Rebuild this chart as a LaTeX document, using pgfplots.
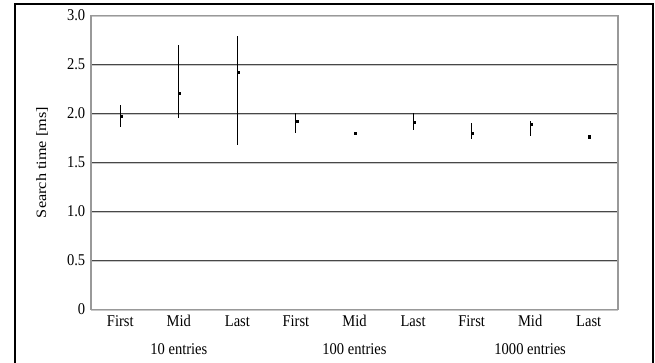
\documentclass[border=0pt]{standalone}
\usepackage{pgfplots}
\pgfplotsset{compat=1.18}
\usepackage{graphicx}
\usepackage{fontspec}
\setmainfont{Liberation Serif}
\newcommand\sy[1]{\scalebox{1}[1.13]{#1}}
\begin{document}
\fontsize{10.9}{13}\selectfont
\begin{tikzpicture}
\begin{axis}[
  at={(68.25pt,39.4pt)}, anchor=south west,
  scale only axis, width=395.25pt, height=220.5pt,
  xmin=-0.5, xmax=8.5, ymin=0, ymax=3,
  xtick={0,...,8},
  xticklabels={\sy{First},\sy{Mid},\sy{Last},\sy{First},\sy{Mid},\sy{Last},\sy{First},\sy{Mid},\sy{Last}},
  ytick={0,0.5,1,1.5,2,2.5,3},
  yticklabels={\sy{0},\sy{0.5},\sy{1.0},\sy{1.5},\sy{2.0},\sy{2.5},\sy{3.0}},
  major tick length=0pt,
  ymajorgrids,
  major grid style={draw=black!72, line width=0.75pt,
     postaction={draw=black!22, line width=0.6pt, transform canvas={yshift=-0.75pt}}},
  axis line style={draw=black!40, line width=0.9pt},
  tick label style={font=\fontsize{10.9}{13}\selectfont},
  yticklabel style={xshift=-0.5pt},
  xticklabel style={yshift=-0.5pt},
  ylabel={\scalebox{1}[0.88]{Search time [ms]}},
  every axis y label/.style={at={(rel axis cs:0,0.5)}, xshift=-36.75pt, rotate=90, anchor=center, font=\fontsize{12.2}{13}\selectfont},
  clip=false,
]
\addplot[black, line width=0.75pt, only marks, mark=square*, mark size=0.8pt,
  mark options={xshift=0.8pt},
  error bars/.cd, y dir=both, y explicit,
  error mark=none,
  error bar style={line width=0.75pt, black}]
  table[x=x, y=y, y error plus=ep, y error minus=em] {
x y ep em
0 1.965 0.12 0.102
1 2.20 0.495 0.25
2 2.415 0.375 0.735
3 1.915 0.085 0.115
4 1.797 0.012 0.012
5 1.905 0.095 0.075
6 1.80 0.105 0.06
7 1.89 0.035 0.12
8 1.76 0.01 0.01
};
\node[anchor=base] at (axis cs:1,0) [yshift=-33.4pt] {\sy{10 entries}};
\node[anchor=base] at (axis cs:4,0) [yshift=-33.4pt] {\sy{100 entries}};
\node[anchor=base] at (axis cs:7,0) [yshift=-33.4pt] {\sy{1000 entries}};
\end{axis}
\draw[line width=1.1pt] (11.25pt,-10pt) -- (11.25pt,268.5pt) -- (489.75pt,268.5pt) -- (489.75pt,-10pt);
\pgfresetboundingbox
\path[use as bounding box] (0pt,0pt) rectangle (491.25pt,271.5pt);
\end{tikzpicture}
\end{document}
